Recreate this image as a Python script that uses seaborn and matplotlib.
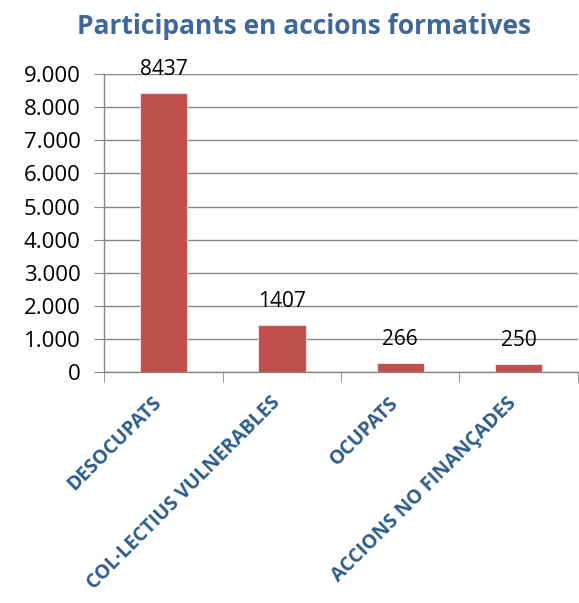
import seaborn as sns
import matplotlib.pyplot as plt
import matplotlib.transforms as mtrans
from matplotlib.ticker import FuncFormatter, FixedLocator
import pandas as pd

# data
categories = ['DESOCUPATS', 'COL·LECTIUS VULNERABLES', 'OCUPATS', 'ACCIONS NO FINANÇADES']
participants = [8437, 1407, 266, 250]

df = pd.DataFrame({'categoria': categories, 'participants': participants})

sns.set_style('white')
plt.rcParams['font.family'] = ['Open Sans', 'DejaVu Sans']

fig = plt.figure(figsize=(5.79, 6.03), dpi=100)
ax = fig.add_axes([0.18, 0.383, 0.818, 0.494])

sns.barplot(data=df, x='categoria', y='participants', color='#C0504D', saturation=1,
            width=0.4, edgecolor='#F2DCDB', linewidth=0.8, ax=ax, zorder=3)

ax.set_ylim(0, 9000)
ax.set_xlim(-0.5, 3.5)
ax.set_yticks(range(0, 9001, 1000))
ax.yaxis.set_major_formatter(FuncFormatter(lambda v, p: f'{int(v):,}'.replace(',', '.')))
ax.grid(axis='y', color='#868686', linewidth=1, zorder=0)
ax.set_axisbelow(True)

for s in ['top', 'right']:
    ax.spines[s].set_visible(False)
for s in ['left', 'bottom']:
    ax.spines[s].set_color('#868686')
    ax.spines[s].set_linewidth(1)

ax.tick_params(axis='y', length=7, color='#868686', labelsize=16, pad=10, left=True,
               labelcolor='black')
ax.xaxis.set_minor_locator(FixedLocator([-0.5, 0.5, 1.5, 2.5, 3.5]))
ax.tick_params(axis='x', which='minor', length=7, color='#868686', bottom=True)
ax.tick_params(axis='x', which='major', length=0, pad=15)
ax.set_xticks(range(len(categories)))
ax.set_xticklabels(categories, rotation=45, ha='right', rotation_mode='anchor',
                   fontsize=14, fontweight='bold', color='#2E5C8A')
shift = mtrans.ScaledTranslation(-12 / 100, 0, fig.dpi_scale_trans)
for lbl in ax.get_xticklabels():
    lbl.set_transform(lbl.get_transform() + shift)

for i, v in enumerate(participants):
    ax.text(i, v + 400, str(v), ha='center', va='bottom', fontsize=15, color='black')

ax.set_xlabel('')
ax.set_ylabel('')
fig.suptitle('Participants en accions formatives', x=0.525, y=0.978,
             fontsize=19, fontweight='bold', color='#3F6797')

fig.savefig('out.png', dpi=100)
